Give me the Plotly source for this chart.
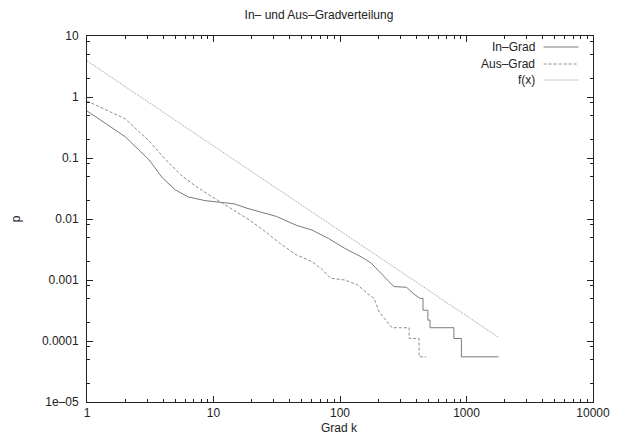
import plotly.graph_objects as go

# In-Grad (solid)
in_k = [1, 2, 3.1, 3.95, 5, 6.3, 8.6, 11.5, 14.6, 18.4, 31.5, 45, 60, 81, 109, 147, 176, 210,
        251, 266, 336, 380, 428, 453, 453, 495, 495, 515, 515, 795, 795, 911, 911, 1790]
in_p = [0.59, 0.224, 0.093, 0.047, 0.030, 0.023, 0.020, 0.0186, 0.0177, 0.015, 0.011, 0.0079,
        0.0066, 0.0048, 0.0033, 0.0024, 0.0019, 0.0013, 0.00089, 0.00078, 0.00076, 0.0006,
        0.0005, 0.0005, 0.00032, 0.00032, 0.00022, 0.00022, 0.000165, 0.000165, 0.00011,
        0.00011, 0.000055, 0.000055]

# Aus-Grad (dashed)
aus_k = [1, 2, 3.1, 4.2, 5.5, 7.3, 9.8, 13.5, 18.4, 24.8, 33.4, 45, 60, 72, 84, 109, 138, 165,
         186, 204, 230, 258, 352, 352, 422, 422, 480]
aus_p = [0.86, 0.44, 0.19, 0.093, 0.053, 0.034, 0.023, 0.015, 0.0102, 0.0066, 0.004, 0.0026,
         0.002, 0.0015, 0.00107, 0.001, 0.00083, 0.0006, 0.0005, 0.0003, 0.00022, 0.000165,
         0.000165, 0.00011, 0.00011, 0.000055, 0.000055]

# f(x) - straight line on log-log axes, end points
f_k = [1, 1790]
f_p = [3.9, 0.000115]

x_ticks = [1, 10, 100, 1000, 10000]
x_labels = ["1", "10", "100", "1000", "10000"]
y_ticks = [10, 1, 0.1, 0.01, 0.001, 0.0001, 0.00001]
y_labels = ["10", "1", "0.1", "0.01", "0.001", "0.0001", "1e\u201305"]

names = ["In\u2013Grad", "Aus\u2013Grad", "f(x)"]
font = "Liberation Sans, Arial, sans-serif"

fig = go.Figure()
fig.add_trace(go.Scatter(x=in_k, y=in_p, mode="lines", name=names[0],
                         line=dict(color="#7a7a7a", width=1)))
fig.add_trace(go.Scatter(x=aus_k, y=aus_p, mode="lines", name=names[1],
                         line=dict(color="#8c8c8c", width=1, dash="3px,2px")))
fig.add_trace(go.Scatter(x=f_k, y=f_p, mode="lines", name=names[2],
                         line=dict(color="#999999", width=1, dash="1px,1px")))

minor_x = [m * 10 ** e for e in range(0, 4) for m in range(2, 10)]
minor_y = [m * 10 ** e for e in range(-5, 1) for m in (2, 5, 8)]

axis_common = dict(showgrid=False, zeroline=False, showline=True, linecolor="#222",
                   linewidth=1, mirror="allticks", ticks="inside", ticklen=6,
                   tickcolor="#222", tickfont=dict(family=font, size=12, color="#222"))

fig.update_xaxes(type="log", range=[0, 4], tickmode="array", tickvals=x_ticks,
                 ticktext=x_labels, ticklabeloverflow="allow",
                 minor=dict(tickmode="array", tickvals=minor_x, ticks="inside", ticklen=3,
                            tickcolor="#222", showgrid=False),
                 **axis_common)
fig.update_yaxes(type="log", range=[-5, 1], tickmode="array", tickvals=y_ticks,
                 ticktext=y_labels, ticklabelstandoff=5,
                 minor=dict(tickmode="array", tickvals=minor_y, ticks="inside", ticklen=3,
                            tickcolor="#222", showgrid=False),
                 **axis_common)

# gnuplot style key: text right aligned, line sample on the right
key_y = [47, 64, 80]
key_dash = ["solid", "3px,2px", "1px,1px"]
key_col = ["#7a7a7a", "#8c8c8c", "#999999"]
W, H = 622, 439
L, R, T, B = 87, 13, 36, 37
pw, ph = W - L - R, H - T - B
for i, nm in enumerate(names):
    yy = 1 - (key_y[i] - T) / ph
    fig.add_annotation(x=(551 - L) / pw, y=yy, xref="paper", yref="paper", text=nm,
                       showarrow=False, xanchor="right", yanchor="middle",
                       font=dict(family=font, size=12, color="#222"))
    fig.add_shape(type="line", xref="paper", yref="paper",
                  x0=(558 - L) / pw, x1=(594 - L) / pw, y0=yy, y1=yy,
                  line=dict(color=key_col[i], width=1, dash=key_dash[i]))

fig.add_annotation(x=(347 - L) / pw, y=1 - (428 - T) / ph, xref="paper", yref="paper",
                   text="Grad k", showarrow=False, xanchor="center", yanchor="middle",
                   borderpad=0, font=dict(family=font, size=12, color="#222"))
fig.add_annotation(x=(14 - L) / pw, y=0.5, xref="paper", yref="paper", text="p",
                   textangle=-90, showarrow=False, xanchor="center", yanchor="middle",
                   font=dict(family=font, size=12, color="#222"))

fig.update_layout(
    width=W, height=H,
    margin=dict(l=L, r=R, t=T, b=B),
    paper_bgcolor="white", plot_bgcolor="white",
    showlegend=False,
    title=dict(text="In\u2013 und Aus\u2013Gradverteilung", x=319 / W, xref="container",
               xanchor="center", y=1 - 15 / H, yref="container", yanchor="middle",
               font=dict(family=font, size=12, color="#222")),
)

# drop the default page margin so the figure sits at the window's top-left corner
fig.write_html("out.html", config={"displayModeBar": False},
               post_script="document.body.style.margin='0';")
